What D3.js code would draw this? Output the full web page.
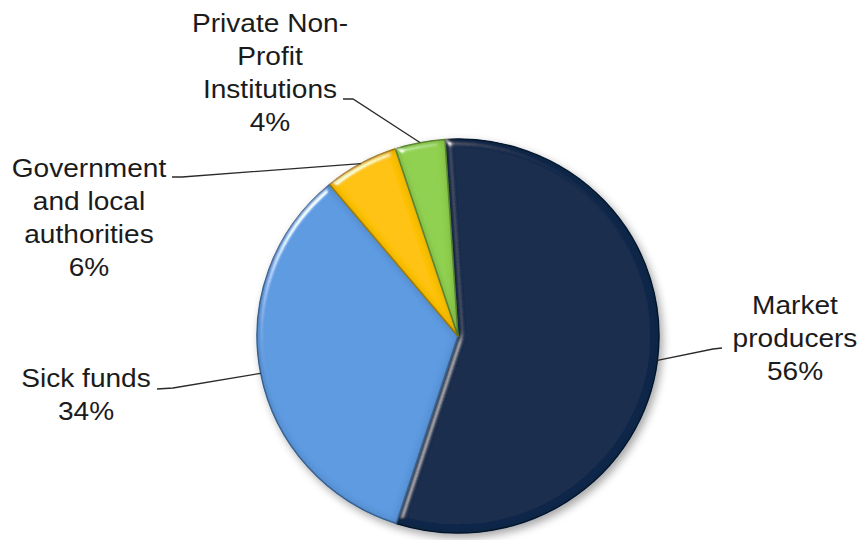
<!DOCTYPE html>
<html>
<head>
<meta charset="utf-8">
<script src="https://cdn.jsdelivr.net/npm/d3@7"></script>
<style>
  html, body { margin: 0; padding: 0; background: #fff; }
  svg { display: block; }
  .lbl { font-family: Arial, "Liberation Sans", sans-serif; font-size: 26px; fill: #1b1b1b; }
</style>
</head>
<body>
<svg id="chart" width="862" height="540"></svg>
<script>
// data
const categories = ["Market producers", "Sick funds", "Government and local authorities", "Private Non-Profit Institutions"];
const shares = [56, 34, 6, 4];
const labelLines = [["Market", "producers"], ["Sick funds"], ["Government", "and local", "authorities"], ["Private Non-", "Profit", "Institutions"]];
const percentLabels = ["56%", "34%", "6%", "4%"];
const colors = ["#182b4b", "#5d9ae0", "#fec20b", "#90d04f"];

// layout for the labels (centre x, first baseline, leader start and elbow)
const labelLayout = [
  { x: 795, y: 314, sx: 722, sy: 348, ex: 713, ey: 349 },
  { x: 86,  y: 387, sx: 157, sy: 389, ex: 173, ey: 388 },
  { x: 89,  y: 177, sx: 172, sy: 177, ex: 182, ey: 177 },
  { x: 270, y: 32,  sx: 343, sy: 99,  ex: 353, ey: 99 }
];

const cx = 458, cy = 336, radius = 197;
const startAngle = -0.065;
const lineHeight = 33;

const svg = d3.select("#chart");
const defs = svg.append("defs");

// soft shadow under the pie
const shadow = defs.append("filter").attr("id", "shadow")
  .attr("x", "-20%").attr("y", "-20%").attr("width", "140%").attr("height", "140%");
shadow.append("feDropShadow")
  .attr("dx", 3).attr("dy", 4).attr("stdDeviation", 4)
  .attr("flood-color", "#000").attr("flood-opacity", 0.35);

// bevel look on each slice: highlight on edges facing the light, darker rim elsewhere
const bevel = defs.append("filter").attr("id", "bevel")
  .attr("x", "-10%").attr("y", "-10%").attr("width", "120%").attr("height", "120%");
bevel.append("feGaussianBlur").attr("in", "SourceAlpha").attr("stdDeviation", 3.5).attr("result", "blur");
const spec = bevel.append("feSpecularLighting")
  .attr("in", "blur").attr("surfaceScale", 5).attr("specularConstant", 0.9)
  .attr("specularExponent", 40).attr("lighting-color", "#ffffff").attr("result", "spec");
spec.append("feDistantLight").attr("azimuth", 225).attr("elevation", 30);
bevel.append("feComposite").attr("in", "spec").attr("in2", "SourceAlpha").attr("operator", "in").attr("result", "specIn");
// inner darkening along the rim
bevel.append("feGaussianBlur").attr("in", "SourceAlpha").attr("stdDeviation", 4).attr("result", "blur2");
bevel.append("feComposite").attr("in", "SourceAlpha").attr("in2", "blur2").attr("operator", "arithmetic")
  .attr("k1", 0).attr("k2", 0.45).attr("k3", -0.45).attr("k4", 0).attr("result", "rim");
bevel.append("feFlood").attr("flood-color", "#000").attr("result", "black");
bevel.append("feComposite").attr("in", "black").attr("in2", "rim").attr("operator", "in").attr("result", "rimDark");
bevel.append("feComposite").attr("in", "SourceGraphic").attr("in2", "specIn")
  .attr("operator", "arithmetic").attr("k1", 0).attr("k2", 1).attr("k3", 1).attr("k4", 0).attr("result", "lit");
const merge = bevel.append("feMerge");
merge.append("feMergeNode").attr("in", "lit");
merge.append("feMergeNode").attr("in", "rimDark");

const pie = d3.pie()
  .sort(null)
  .value(d => d)
  .startAngle(startAngle)
  .endAngle(startAngle + 2 * Math.PI);

const arcs = pie(shares);

const arc = d3.arc().innerRadius(0).outerRadius(radius);
const edgeArc = d3.arc().innerRadius(radius).outerRadius(radius);

const g = svg.append("g")
  .attr("transform", `translate(${cx},${cy}) scale(1.02,1)`);

const slices = g.append("g").attr("filter", "url(#shadow)");

slices.selectAll("path")
  .data(arcs)
  .join("path")
  .attr("d", arc)
  .attr("fill", (d, i) => colors[i])
  .attr("stroke", (d, i) => d3.color(colors[i]).darker(1))
  .attr("stroke-width", 1.5)
  .attr("stroke-linejoin", "round")
  .attr("filter", "url(#bevel)");

// leader lines
const leaders = svg.append("g")
  .attr("fill", "none")
  .attr("stroke", "#2a2a2a")
  .attr("stroke-width", 1.3);

arcs.forEach((d, i) => {
  const L = labelLayout[i];
  const [px, py] = edgeArc.centroid(d);
  const p = d3.path();
  p.moveTo(L.sx, L.sy);
  p.lineTo(L.ex, L.ey);
  p.lineTo(cx + px * 1.02, cy + py);
  leaders.append("path").attr("d", p.toString());
});

// labels
const labels = svg.append("g");
categories.forEach((c, i) => {
  const L = labelLayout[i];
  const t = labels.append("text")
    .attr("class", "lbl")
    .attr("text-anchor", "middle")
    .attr("transform", `translate(${L.x},${L.y}) scale(1.08,1)`);
  const lines = labelLines[i].concat([percentLabels[i]]);
  lines.forEach((ln, j) => {
    t.append("tspan").attr("x", 0).attr("y", j * lineHeight).text(ln);
  });
});
</script>
</body>
</html>
